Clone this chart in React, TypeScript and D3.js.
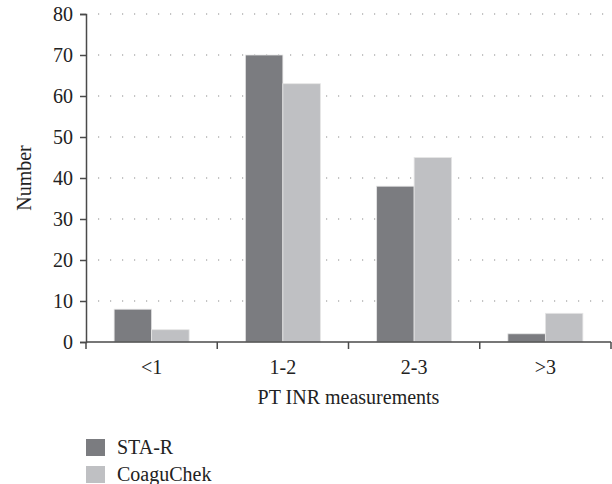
import React, { useRef, useEffect } from 'react';
import * as d3 from 'd3';

const categories = ['<1', '1-2', '2-3', '>3'];
const seriesNames = ['STA-R', 'CoaguChek'];
const staR = [8, 70, 38, 2];
const coaguChek = [3, 63, 45, 7];
const yTicks = [0, 10, 20, 30, 40, 50, 60, 70, 80];
const colors = ['#7b7c80', '#bfc0c3'];

const App: React.FC = () => {
  const svgRef = useRef<SVGSVGElement>(null);

  useEffect(() => {
    const svg = d3.select(svgRef.current);
    svg.selectAll('*').remove();

    const width = 612;
    const height = 484;
    const margin = { top: 14, right: 1, bottom: 142, left: 86 };
    const font = '"Liberation Serif", "DejaVu Serif", serif';
    const fontSize = '20px';
    const axisColor = '#4a4a4a';

    const x = d3
      .scaleBand<string>()
      .domain(categories)
      .range([margin.left, width - margin.right])
      .paddingInner(0)
      .paddingOuter(0);

    const x1 = d3
      .scaleBand<string>()
      .domain(seriesNames)
      .range([0, x.bandwidth()])
      .paddingOuter(0.75)
      .paddingInner(0);

    const y = d3.scaleLinear().domain([0, 80]).range([height - margin.bottom, margin.top]);

    /* ---------- dotted grid ---------- */
    svg
      .append('g')
      .selectAll('line')
      .data(yTicks.filter(t => t > 0))
      .enter()
      .append('line')
      .attr('x1', margin.left + 12)
      .attr('x2', width - margin.right)
      .attr('y1', d => y(d))
      .attr('y2', d => y(d))
      .attr('stroke', '#8a8a8a')
      .attr('stroke-width', 1.2)
      .attr('stroke-dasharray', '1.2,10.8');

    /* ---------- bars ---------- */
    const rows = categories.map((c, i) => ({ cat: c, values: [staR[i], coaguChek[i]] }));
    const groups = svg
      .append('g')
      .selectAll('g')
      .data(rows)
      .enter()
      .append('g')
      .attr('transform', d => `translate(${x(d.cat)},0)`);

    groups
      .selectAll('rect')
      .data(d => d.values.map((v, i) => ({ name: seriesNames[i], value: v, idx: i })))
      .enter()
      .append('rect')
      .attr('x', d => x1(d.name)!)
      .attr('y', d => y(d.value))
      .attr('width', x1.bandwidth())
      .attr('height', d => y(0) - y(d.value))
      .attr('fill', d => colors[d.idx])
      .attr('stroke', '#e6e6e6')
      .attr('stroke-width', 0.8);

    /* ---------- y axis ---------- */
    const yAxis = d3
      .axisLeft(y)
      .tickValues(yTicks)
      .tickSize(6)
      .tickPadding(7)
      .tickFormat(d => `${d}`);
    const yg = svg
      .append('g')
      .attr('transform', `translate(${margin.left},0)`)
      .call(yAxis);
    yg.select('.domain').attr('stroke', axisColor).attr('stroke-width', 1.5);
    yg.selectAll('.tick line').attr('stroke', axisColor).attr('stroke-width', 1.5);
    yg.selectAll('.tick text')
      .attr('fill', '#222')
      .style('font-family', font)
      .style('font-size', fontSize);

    /* ---------- x axis ---------- */
    const xg = svg.append('g').attr('transform', `translate(0,${y(0)})`);
    xg.append('line')
      .attr('x1', margin.left)
      .attr('x2', width - margin.right)
      .attr('y1', 0)
      .attr('y2', 0)
      .attr('stroke', axisColor)
      .attr('stroke-width', 1.5);
    const edges = categories.map(c => x(c)!).concat([x(categories[categories.length - 1])! + x.bandwidth()]);
    xg.selectAll('line.edge')
      .data(edges)
      .enter()
      .append('line')
      .attr('class', 'edge')
      .attr('x1', d => d)
      .attr('x2', d => d)
      .attr('y1', 0)
      .attr('y2', 7)
      .attr('stroke', axisColor)
      .attr('stroke-width', 1.5);
    xg.selectAll('text.cat')
      .data(categories)
      .enter()
      .append('text')
      .attr('class', 'cat')
      .attr('x', d => x(d)! + x.bandwidth() / 2)
      .attr('y', 32)
      .attr('text-anchor', 'middle')
      .attr('fill', '#222')
      .style('font-family', font)
      .style('font-size', fontSize)
      .text(d => d);

    /* ---------- axis titles ---------- */
    svg
      .append('text')
      .attr('x', (margin.left + width - margin.right) / 2)
      .attr('y', y(0) + 62)
      .attr('text-anchor', 'middle')
      .attr('fill', '#222')
      .style('font-family', font)
      .style('font-size', fontSize)
      .text('PT INR measurements');

    svg
      .append('text')
      .attr('transform', `translate(31,${(margin.top + y(0)) / 2}) rotate(-90)`)
      .attr('text-anchor', 'middle')
      .attr('fill', '#222')
      .style('font-family', font)
      .style('font-size', fontSize)
      .text('Number');

    /* ---------- legend ---------- */
    const legend = svg
      .append('g')
      .selectAll('g')
      .data(seriesNames)
      .enter()
      .append('g')
      .attr('transform', (_, i) => `translate(86,${439 + i * 27})`);
    legend
      .append('rect')
      .attr('width', 19)
      .attr('height', 17)
      .attr('fill', (_, i) => colors[i]);
    legend
      .append('text')
      .attr('x', 31)
      .attr('y', 15)
      .attr('fill', '#222')
      .style('font-family', font)
      .style('font-size', fontSize)
      .text(d => d);
  }, []);

  return (
    <svg
      ref={svgRef}
      width={612}
      height={484}
      style={{ position: 'absolute', left: 0, top: 0, background: '#fff' }}
    />
  );
};

export default App;
